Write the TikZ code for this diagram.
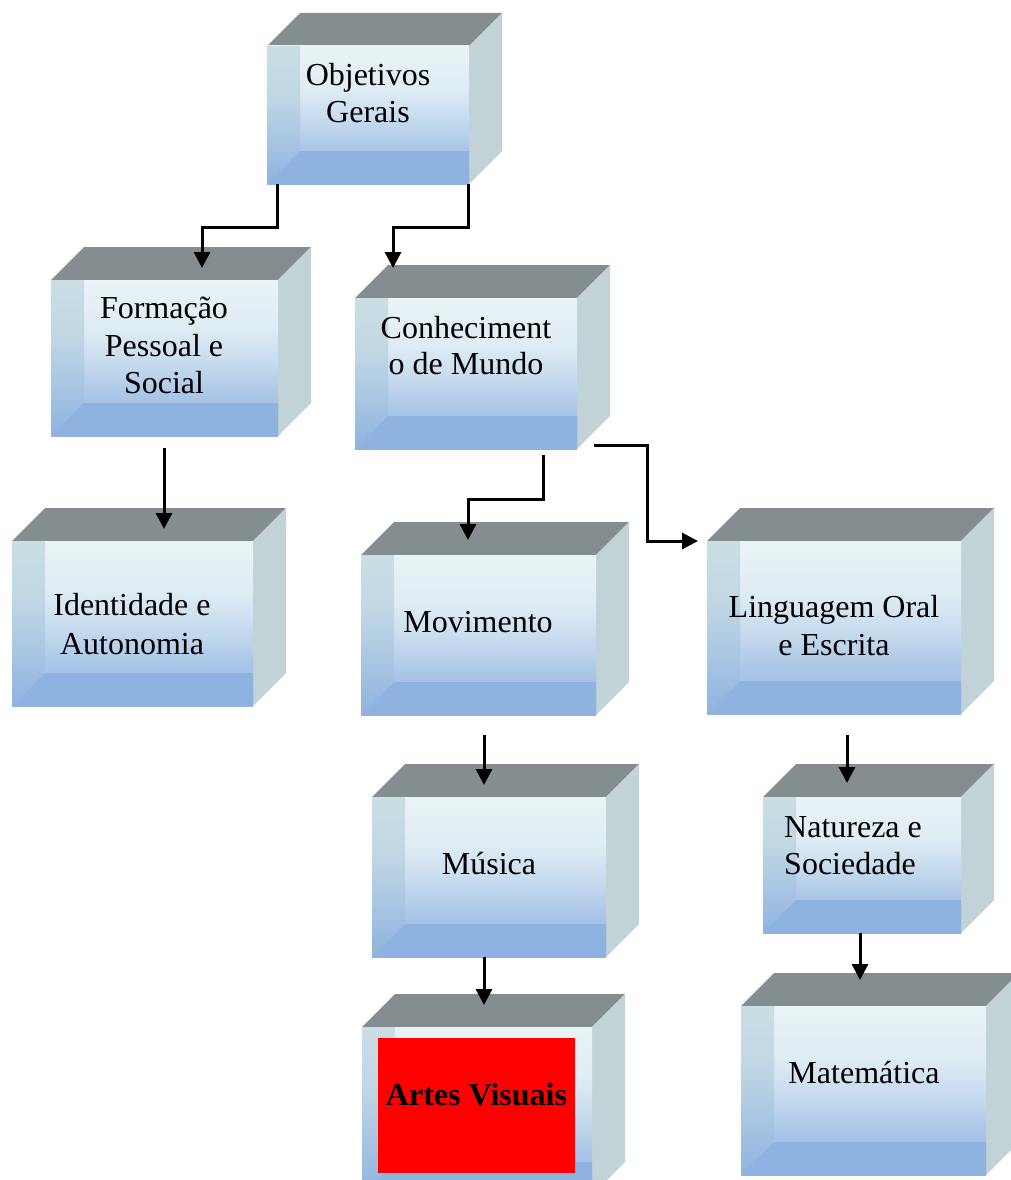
\documentclass[tikz,border=0pt]{standalone}
\usepackage{fontspec}
\setmainfont{Liberation Serif}
\usetikzlibrary{arrows.meta,calc}
\definecolor{topface}{HTML}{848E90}
\definecolor{sideface}{HTML}{C1D3D6}
\definecolor{lighttop}{HTML}{EAF4F7}
\definecolor{bluebot}{HTML}{8FB3E0}
\definecolor{leftstrip}{HTML}{CADEE4}
\colorlet{mixa}{bluebot!70!lighttop}
\colorlet{mixb}{bluebot!35!lighttop}
\colorlet{mixc}{bluebot!12!lighttop}
\colorlet{mixd}{bluebot!55!leftstrip}
\colorlet{mixe}{bluebot!15!leftstrip}
\pgfdeclareverticalshading{frontshade}{100bp}{color(0bp)=(bluebot); color(25bp)=(bluebot); color(38bp)=(mixa); color(50bp)=(mixb); color(60bp)=(mixc); color(75bp)=(lighttop); color(100bp)=(lighttop)}
\pgfdeclareverticalshading{leftshade}{100bp}{color(0bp)=(bluebot); color(25bp)=(bluebot); color(42bp)=(mixd); color(58bp)=(mixe); color(75bp)=(leftstrip); color(100bp)=(leftstrip)}
\newcommand\cubebox[5]{%
  \fill[topface] (#2,#3) -- (#2+33,#3-33) -- (#4+33,#3-33) -- (#4,#3) -- cycle;
  \fill[sideface] (#4,#3) -- (#4+33,#3-33) -- (#4+33,#5-33) -- (#4,#5) -- cycle;
  \shade[shading=frontshade] (#2,#3) rectangle (#4,#5);
  \shade[shading=leftshade] (#2,#3) -- (#2+33,#3) -- (#2+33,#5-33) -- (#2,#5) -- cycle;
  \fill[bluebot] (#2,#5) -- (#2+33,#5-33) -- (#4,#5-33) -- (#4,#5) -- cycle;
  \node[facebox, minimum width=#4-#2, minimum height=#5-#3] (#1) at ({(#2+#4)/2},{(#3+#5)/2}) {};
}
\tikzset{conn/.style={draw=black, line width=3pt, -{Triangle[width=16pt,length=16pt]}}}
\begin{document}
\begin{tikzpicture}[x=1pt,y=-1pt,
  facebox/.style={rectangle, inner sep=0pt, outer sep=0pt},
  txt/.style={font=\fontsize{32}{37}\selectfont, anchor=base, inner sep=0pt}]
\useasboundingbox (0,0) rectangle (1011,1180);
\clip (0,0) rectangle (1011,1180);
\cubebox{og}{267}{46}{469}{184}
\cubebox{fps}{51}{280}{278}{436}
\cubebox{cm}{355}{298}{577}{449}
\cubebox{ia}{12}{541}{253}{706}
\cubebox{mov}{361}{555}{596}{715}
\cubebox{loe}{707}{541}{961}{714}
\cubebox{mus}{372}{797}{606}{957}
\cubebox{ns}{763}{797}{961}{933}
\cubebox{av}{362}{1027}{592}{1195}
\cubebox{mat}{741}{1006}{986}{1175}
% texts
\node[txt] (og1) at (368,86) {Objetivos};
\node[txt] (og2) at (368,123) {Gerais};
\node[txt] (fps1) at (164,318) {Formação};
\node[txt] (fps2) at (164,356) {Pessoal e};
\node[txt] (fps3) at (164,393) {Social};
\node[txt] (cm1) at (466,338) {Conheciment};
\node[txt] (cm2) at (466,374) {o de Mundo};
\node[txt] (ia1) at (132,615) {Identidade e};
\node[txt] (ia2) at (132,654) {Autonomia};
\node[txt] (mov1) at (478,632) {Movimento};
\node[txt] (loe1) at (834,617) {Linguagem Oral};
\node[txt] (loe2) at (834,655) {e Escrita};
\node[txt] (mus1) at (489,874) {Música};
\node[txt, anchor=base west] (ns1) at (784,837) {Natureza e};
\node[txt, anchor=base west] (ns2) at (784,874) {Sociedade};
\node[fill=red, inner sep=0pt, minimum width=197, minimum height=135] (avred) at (476.5,1105.5) {};
\node[txt, font=\fontsize{32}{37}\selectfont\bfseries] (av1) at (476.5,1105) {Artes Visuais};
\node[txt] (mat1) at (864,1083) {Matemática};
% connectors
\draw[conn] ($(og.south west)+(10,0)$) -- ++(0,43) -| ($(fps.north west)+(151,-12)$);
\draw[conn] ($(og.south east)+(-1,0)$) -- ++(0,43) -| ($(cm.north west)+(38,-30)$);
\draw[conn] ($(fps.south west)+(113,12)$) -- ($(ia.north west)+(152,-12)$);
\draw[conn] ($(cm.south west)+(188,6)$) -- ++(0,44) -| ($(mov.north west)+(107,-15)$);
\draw[conn] ($(cm.south east)+(17,-4)$) -| ($(loe.north west)+(-60,0)$) -- ($(loe.north west)+(-9,0)$);
\draw[conn] ($(mov.south west)+(123,20)$) -- ($(mus.north west)+(112,-12)$);
\draw[conn] ($(mus.south west)+(112,0)$) -- ($(av.north west)+(122,-22)$);
\draw[conn] ($(loe.south west)+(140,21)$) -- ($(ns.north west)+(84,-14)$);
\draw[conn] ($(ns.south west)+(97,0)$) -- ($(mat.north west)+(119,-26)$);
\end{tikzpicture}
\end{document}
